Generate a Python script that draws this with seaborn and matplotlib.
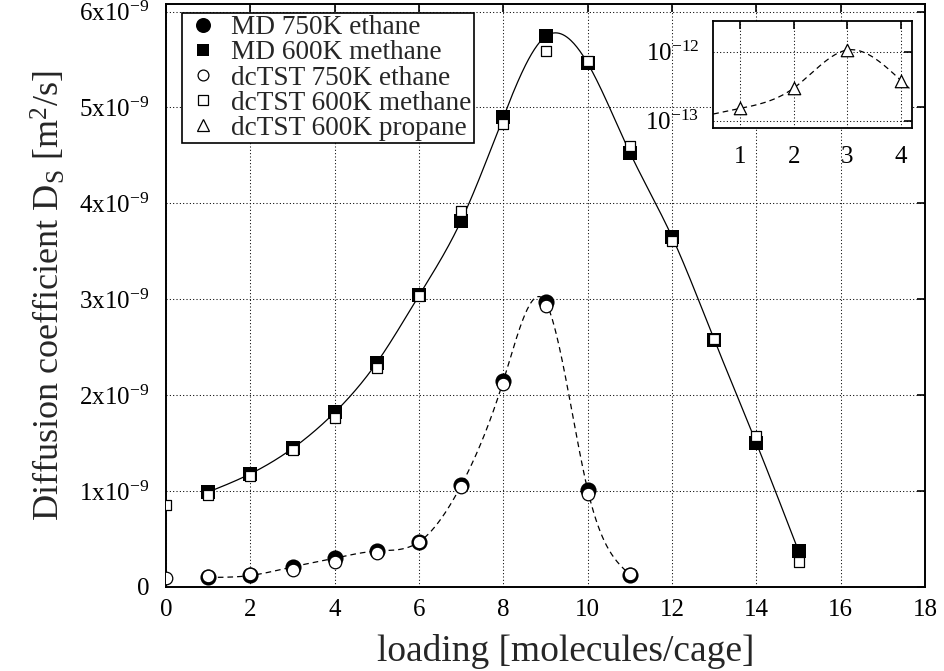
import numpy as np
import matplotlib
matplotlib.use("Agg")
import matplotlib.pyplot as plt
from matplotlib.lines import Line2D
import seaborn as sns

# ---------------- data (D_S in units of 1e-9 m^2/s) ----------------
loading_md_ethane = [1, 2, 3, 4, 5, 6, 7, 8, 9, 10, 11]
ds_md_ethane = [0.10, 0.12, 0.21, 0.30, 0.375, 0.47, 1.06, 2.15, 2.97, 1.01, 0.13]

loading_md_methane = [1, 2, 3, 4, 5, 6, 7, 8, 9, 10, 11, 12, 13, 14, 15]
ds_md_methane = [0.99, 1.18, 1.445, 1.82, 2.34, 3.04, 3.82, 4.90, 5.74, 5.46,
                 4.53, 3.65, 2.58, 1.50, 0.375]

loading_tst_ethane = [0, 1, 2, 3, 4, 5, 6, 7, 8, 9, 10, 11]
ds_tst_ethane = [0.09, 0.115, 0.14, 0.18, 0.26, 0.35, 0.47, 1.045, 2.12, 2.93, 0.965, 0.14]

loading_tst_methane = [0, 1, 2, 3, 4, 5, 6, 7, 8, 9, 10, 11, 12, 13, 14, 15]
ds_tst_methane = [0.85, 0.96, 1.16, 1.43, 1.76, 2.28, 3.03, 3.92, 4.83, 5.59,
                  5.48, 4.60, 3.61, 2.59, 1.57, 0.26]

loading_tst_propane = [1, 2, 3, 4]
ds_tst_propane = [1.51e-13, 2.98e-13, 1.06e-12, 3.83e-13]

UNIT = 1e-9
x_ticks = [0, 2, 4, 6, 8, 10, 12, 14, 16, 18]
y_ticks = [0, 1, 2, 3, 4, 5, 6]
y_tick_labels = ["0", "1x10$^{-9}$", "2x10$^{-9}$", "3x10$^{-9}$",
                 "4x10$^{-9}$", "5x10$^{-9}$", "6x10$^{-9}$"]
inset_x_ticks = [1, 2, 3, 4]
inset_y_ticks = [1e-13, 1e-12]
inset_y_tick_labels = ["10$^{-13}$", "10$^{-12}$"]
legend_labels = ["MD 750K ethane", "MD 600K methane", "dcTST 750K ethane",
                 "dcTST 600K methane", "dcTST 600K propane"]
x_label = "loading [molecules/cage]"
y_label = "Diffusion coefficient D$_\\mathrm{S}$ [m$^{2}$/s]"


def natural_spline(x, y, xs):
    """Natural cubic spline (like gnuplot 'smooth csplines'), linear beyond ends."""
    x = np.asarray(x, float)
    y = np.asarray(y, float)
    xs = np.asarray(xs, float)
    n = len(x)
    h = np.diff(x)
    A = np.zeros((n, n))
    b = np.zeros(n)
    A[0, 0] = 1
    A[-1, -1] = 1
    for i in range(1, n - 1):
        A[i, i - 1] = h[i - 1]
        A[i, i] = 2 * (h[i - 1] + h[i])
        A[i, i + 1] = h[i]
        b[i] = 6 * ((y[i + 1] - y[i]) / h[i] - (y[i] - y[i - 1]) / h[i - 1])
    M = np.linalg.solve(A, b)
    out = np.empty_like(xs)
    for k, xv in enumerate(xs):
        if xv <= x[0]:
            slope = (y[1] - y[0]) / h[0] - h[0] * (2 * M[0] + M[1]) / 6
            out[k] = y[0] + slope * (xv - x[0])
            continue
        if xv >= x[-1]:
            slope = (y[-1] - y[-2]) / h[-1] + h[-1] * (M[-2] + 2 * M[-1]) / 6
            out[k] = y[-1] + slope * (xv - x[-1])
            continue
        i = min(np.searchsorted(x, xv) - 1, n - 2)
        t1 = x[i + 1] - xv
        t0 = xv - x[i]
        out[k] = (M[i] * t1 ** 3 / (6 * h[i]) + M[i + 1] * t0 ** 3 / (6 * h[i])
                  + (y[i] / h[i] - M[i] * h[i] / 6) * t1
                  + (y[i + 1] / h[i] - M[i + 1] * h[i] / 6) * t0)
    return out


sns.set_style("white")
plt.rcParams["font.family"] = ["Liberation Serif", "DejaVu Serif"]
plt.rcParams["mathtext.fontset"] = "custom"
plt.rcParams["mathtext.rm"] = "Liberation Serif"
plt.rcParams["mathtext.it"] = "Liberation Serif:italic"
plt.rcParams["mathtext.bf"] = "Liberation Serif:bold"

fig = plt.figure(figsize=(9.45, 6.71), dpi=100)
fig.patch.set_facecolor("white")
ax = fig.add_axes([0.1757, 0.1252, 0.8032, 0.869])

dash = (0, (4.5, 3.2))
grid_ls = (0, (1, 2.2))

# smooth curves
xs_m = np.linspace(loading_md_methane[0], loading_md_methane[-1], 600)
ys_m = natural_spline(loading_md_methane, ds_md_methane, xs_m)
sns.lineplot(x=xs_m, y=ys_m * UNIT, ax=ax, color="black", lw=0.9,
             estimator=None, sort=False, zorder=3)
xs_e = np.linspace(loading_md_ethane[0], loading_md_ethane[-1], 600)
ys_e = natural_spline(loading_md_ethane, ds_md_ethane, xs_e)
sns.lineplot(x=xs_e, y=ys_e * UNIT, ax=ax, color="black", lw=0.9,
             estimator=None, sort=False, zorder=3)
ax.lines[-1].set_linestyle(dash)

# markers
sns.scatterplot(x=loading_md_ethane, y=np.array(ds_md_ethane) * UNIT, ax=ax,
                marker="o", s=135, color="black", edgecolor="black", linewidth=0, zorder=4)
sns.scatterplot(x=loading_md_methane, y=np.array(ds_md_methane) * UNIT, ax=ax,
                marker="s", s=112, color="black", edgecolor="black", linewidth=0, zorder=4)
sns.scatterplot(x=loading_tst_ethane, y=np.array(ds_tst_ethane) * UNIT, ax=ax,
                marker="o", s=82, facecolor="white", edgecolor="black", linewidth=0.9, zorder=5)
sns.scatterplot(x=loading_tst_methane, y=np.array(ds_tst_methane) * UNIT, ax=ax,
                marker="s", s=52, facecolor="white", edgecolor="black", linewidth=0.9, zorder=5)

ax.set_xlim(0, 18)
ax.set_ylim(0, 6.08e-9)
ax.set_xticks(x_ticks)
ax.set_xticklabels([str(t) for t in x_ticks])
ax.set_yticks([v * UNIT for v in y_ticks])
ax.set_yticklabels(y_tick_labels)
ax.grid(True, color="black", lw=0.75, ls=grid_ls, alpha=1.0)
ax.set_axisbelow(True)
for sp in ax.spines.values():
    sp.set_linewidth(1.4)
    sp.set_color("black")
ax.tick_params(direction="in", length=6, width=1.2, top=True, right=True,
               labelsize=18, colors="black")
ax.tick_params(axis="x", pad=9)
ax.tick_params(axis="y", pad=12)
ax.set_xlabel(x_label, fontsize=27, labelpad=9)
ax.xaxis.label.set_x(0.527)
ax.set_ylabel(y_label, fontsize=26, labelpad=8)

handles = [
    Line2D([], [], ls="", marker="o", markersize=10.8, color="black", markeredgewidth=0),
    Line2D([], [], ls="", marker="s", markersize=9.3, color="black", markeredgewidth=0),
    Line2D([], [], ls="", marker="o", markersize=7.8, markerfacecolor="white",
           markeredgecolor="black", markeredgewidth=0.9),
    Line2D([], [], ls="", marker="s", markersize=6.5, markerfacecolor="white",
           markeredgecolor="black", markeredgewidth=0.9),
    Line2D([], [], ls="", marker="^", markersize=8.0, markerfacecolor="white",
           markeredgecolor="black", markeredgewidth=0.9),
]
leg = ax.legend(handles, legend_labels, loc="upper left", bbox_to_anchor=(0.0215, 0.985),
                borderaxespad=0, fontsize=19.6, frameon=True, fancybox=False,
                framealpha=1, edgecolor="black", borderpad=0.1, labelspacing=0.0,
                handlelength=1.35, handletextpad=0.33)
leg.get_frame().set_linewidth(1.2)
leg.set_zorder(10)

# inset
axi = fig.add_axes([0.7548, 0.8088, 0.21, 0.16])
axi.set_yscale("log")
xs_p = np.linspace(0.5, 4.2, 300)
ys_p = 10 ** natural_spline(loading_tst_propane, np.log10(ds_tst_propane), xs_p)
sns.lineplot(x=xs_p, y=ys_p, ax=axi, color="black", lw=0.9, estimator=None, sort=False, zorder=3)
axi.lines[-1].set_linestyle(dash)
sns.scatterplot(x=loading_tst_propane, y=ds_tst_propane, ax=axi, marker="^", s=80,
                facecolor="white", edgecolor="black", linewidth=0.9, zorder=5)
axi.set_xlim(0.5, 4.2)
axi.set_ylim(7.8e-14, 2.79e-12)
axi.set_xticks(inset_x_ticks)
axi.set_xticklabels([str(t) for t in inset_x_ticks])
axi.set_yticks(inset_y_ticks)
axi.set_yticklabels(inset_y_tick_labels)
axi.yaxis.set_minor_locator(matplotlib.ticker.NullLocator())
axi.grid(True, color="black", lw=0.75, ls=grid_ls, alpha=1.0)
axi.set_axisbelow(True)
for sp in axi.spines.values():
    sp.set_linewidth(1.3)
    sp.set_color("black")
axi.tick_params(direction="in", length=6, width=1.2, top=True, right=True,
                labelsize=18, colors="black")
axi.tick_params(axis="x", pad=13)
axi.tick_params(axis="y", pad=10)
axi.set_xlabel("")
axi.set_ylabel("")

fig.savefig("out.png", dpi=100, facecolor="white")
